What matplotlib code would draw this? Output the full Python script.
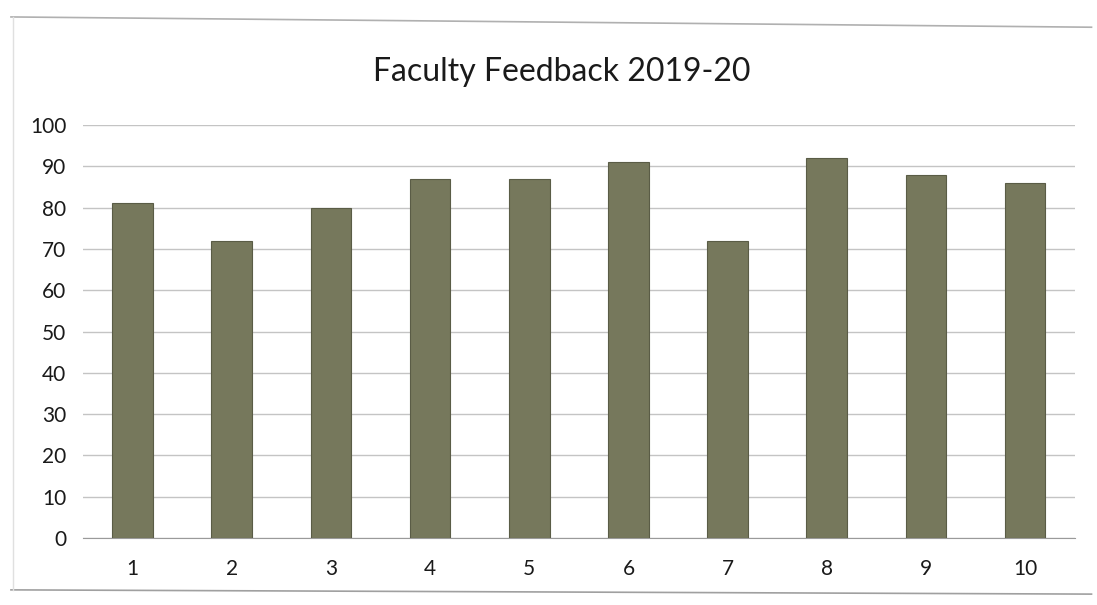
import matplotlib.pyplot as plt
from matplotlib.lines import Line2D

# data
faculty = ["1", "2", "3", "4", "5", "6", "7", "8", "9", "10"]
feedback = [81, 72, 80, 87, 87, 91, 72, 92, 88, 86]
y_ticks = [0, 10, 20, 30, 40, 50, 60, 70, 80, 90, 100]


def barplot(labels, values):
    """creates the feedback bar chart and saves it to out.png.

    Parameters:
        - labels (strings[]): faculty numbers on the x axis
        - values (numbers[]): feedback score for each faculty

    Returns:
        None
    """
    plt.rcParams["font.family"] = ["Lato", "DejaVu Sans"]
    fig = plt.figure(figsize=(10.97, 6.05), dpi=100)
    ax = fig.add_axes([0.0757, 0.1107, 0.904, 0.6827])

    positions = range(1, len(labels) + 1)
    ax.bar(positions, values, width=0.41, color="#76785c",
           edgecolor="#5a5c46", linewidth=0.8, zorder=3)

    ax.set_xlim(0.5, len(labels) + 0.5)
    ax.set_ylim(0, 100)
    ax.set_yticks(y_ticks)
    ax.set_xticks(list(positions))
    ax.set_xticklabels(labels)

    # light horizontal gridlines, no frame except the baseline
    ax.grid(axis="y", color="#c4c4c4", linewidth=1.0, zorder=0)
    for side in ["top", "right", "left"]:
        ax.spines[side].set_visible(False)
    ax.spines["bottom"].set_color("#9a9a9a")
    ax.tick_params(axis="both", length=0, labelsize=15, colors="#1a1a1a")
    ax.tick_params(axis="x", pad=15)
    ax.tick_params(axis="y", pad=12)

    fig.suptitle("Faculty Feedback 2019-20", x=0.512, y=0.905,
                 fontsize=23, color="#1a1a1a")

    # chart border from the scanned page
    fig.add_artist(Line2D([0.01, 0.995], [0.972, 0.955],
                          color="#b0b0b0", linewidth=1.2))
    fig.add_artist(Line2D([0.01, 0.995], [0.025, 0.018],
                          color="#a0a0a0", linewidth=1.2))
    fig.add_artist(Line2D([0.012, 0.012], [0.025, 0.972],
                          color="#e0e0e0", linewidth=1.0))

    plt.savefig("out.png", dpi=100)
    return


barplot(faculty, feedback)
